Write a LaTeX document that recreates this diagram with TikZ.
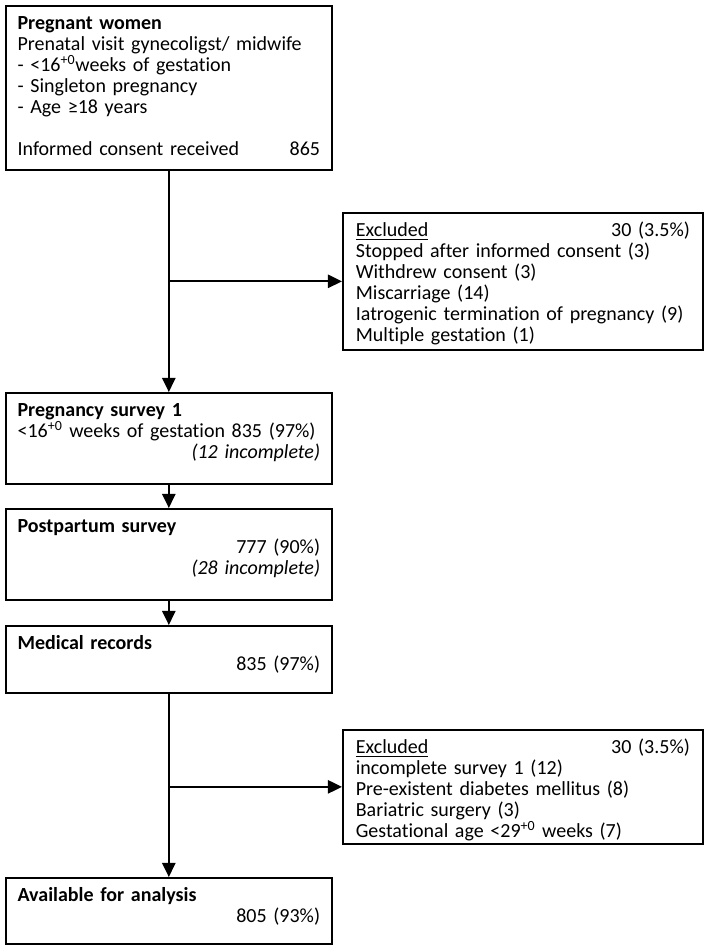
\documentclass[tikz,border=0pt]{standalone}
\usepackage{fontspec}
\setmainfont{Carlito}[Ligatures={NoCommon}]
\usetikzlibrary{arrows.meta}
\tikzset{
  box/.style={draw, line width=1.1pt, anchor=north west, align=left,
    inner xsep=7.5pt, inner ysep=4pt, text height=11.36pt,
    font=\fontsize{12.8}{13.4}\selectfont},
  lbox/.style={box, text width=193.6pt},
  rbox/.style={box, inner xsep=8.3pt, text width=213.8pt},
  arr/.style={line width=1.1pt, -{Triangle[length=9pt,width=8.5pt]}},
}

\begin{document}
\begin{tikzpicture}[x=0.64pt, y=-0.64pt]
        \useasboundingbox (0,0) rectangle (709,950);                  %
        \node [lbox, text depth=85.6pt] (pregnant) at (5,5)          %start
          {\textbf{Pregnant women}\\ Prenatal visit gynecoligst/ midwife\\
           - <16\textsuperscript{+0}weeks of gestation\\ - Singleton pregnancy\\
           - Age ≥18 years\\[13.4pt] Informed consent received \hfill 865};
        \node [rbox, text depth=68.3pt] (excl1) at (342,212)         %excluded 1
          {\underline{Excluded} \hfill 30 (3.5\%)\\ Stopped after informed consent (3)\\
           Withdrew consent (3)\\ Miscarriage (14)\\
           Iatrogenic termination of pregnancy (9)\\ Multiple gestation (1)};
        \node [lbox, text depth=38.9pt] (survey1) at (5,392)         %survey 1
          {\textbf{Pregnancy survey 1}\\ <16\textsuperscript{+0} weeks of gestation 835 (97\%)\\
           \hspace*{\fill}\textit{(12 incomplete)}};
        \node [lbox, text depth=38.9pt] (postpartum) at (5,508)      %postpartum
          {\textbf{Postpartum survey}\\ \hspace*{\fill}777 (90\%)\\
           \hspace*{\fill}\textit{(28 incomplete)}};
        \node [lbox, text depth=23.5pt] (records) at (5,625)         %records
          {\textbf{Medical records}\\ \hspace*{\fill}835 (97\%)};
        \node [rbox, text depth=53.6pt] (excl2) at (342,729)         %excluded 2
          {\underline{Excluded} \hfill 30 (3.5\%)\\ incomplete survey 1 (12)\\
           Pre-existent diabetes mellitus (8)\\ Bariatric surgery (3)\\
           Gestational age <29\textsuperscript{+0} weeks (7)};
        \node [lbox, text depth=22.9pt] (analysis) at (5,877)        %end
          {\textbf{Available for analysis}\\ \hspace*{\fill}805 (93\%)};
        \coordinate (split1) at (pregnant.south |- excl1.west);       %
        \coordinate (split2) at (records.south |- excl2.west);        %
        \draw [arr] (pregnant.south) -- (survey1.north);              %
        \draw [arr] (split1) -- (excl1.west);                         %
        \draw [arr] (survey1) -- (postpartum);                        %
        \draw [arr] (postpartum) -- (records);                        %
        \draw [arr] (records.south) -- (analysis.north);              %
        \draw [arr] (split2) -- (excl2.west);                         %
\end{tikzpicture}
\end{document}
